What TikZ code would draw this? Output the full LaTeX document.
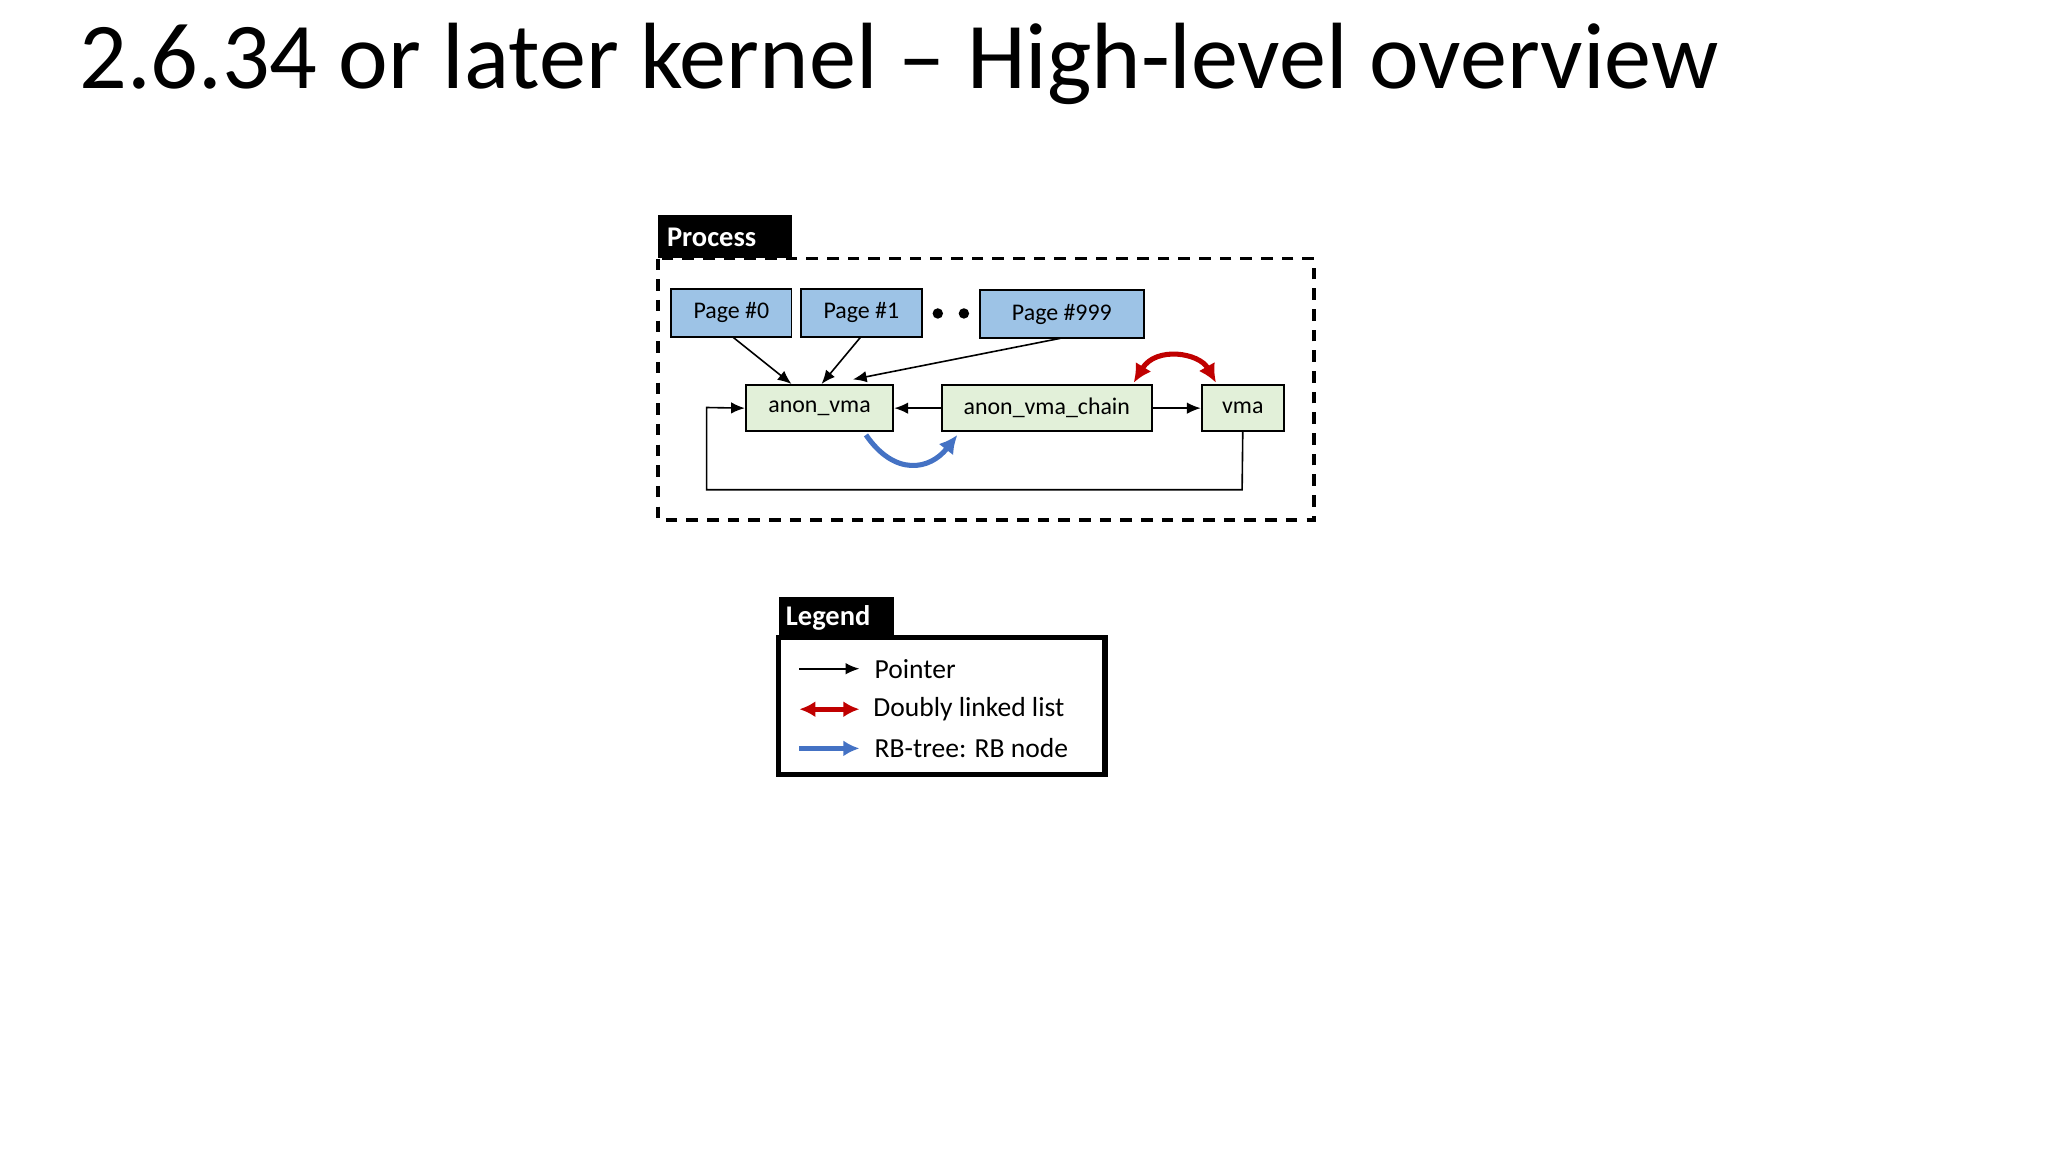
\documentclass[tikz,border=0pt]{standalone}
\usepackage{fontspec}
\setmainfont{Carlito}
\usetikzlibrary{arrows.meta}
\definecolor{pblue}{HTML}{9DC3E6}
\definecolor{pgreen}{HTML}{E2F0D9}
\definecolor{dred}{HTML}{C00000}
\definecolor{rbblue}{HTML}{4472C4}
\tikzset{
 pagebox/.style={draw,fill=pblue,minimum height=37*0.01cm,inner sep=0pt,font=\fontsize{5.2}{6}\selectfont},
 structbox/.style={draw,fill=pgreen,minimum height=35*0.01cm,inner sep=0pt,font=\fontsize{5.2}{6}\selectfont},
 ptr/.style={-{Latex[length=3pt,width=2.5pt]},line width=0.35pt},
 tag/.style={fill=black,text=white,font=\bfseries\fontsize{6.2}{7}\selectfont,inner sep=0pt,anchor=south west},
}
\begin{document}
\begin{tikzpicture}[x=0.01cm,y=-0.01cm]
\useasboundingbox (0,0) rectangle (1568,882);
\node[anchor=base west,inner sep=0pt,font=\fontsize{20.5}{24}\selectfont] (title) at (60,68) {2.6.34 or later kernel – High-level overview};
% process
\draw[dashed,line width=0.8pt,dash pattern=on 2.5pt off 2pt] (504,198) rectangle (1006,398);
\node[tag,minimum width=103*0.01cm,minimum height=33*0.01cm] (proc) at (503,198) {};
\node[font=\bfseries\fontsize{6.2}{7}\selectfont,text=white,anchor=west,inner sep=0pt] (proct) at (510,182) {Process};
\node[pagebox,minimum width=92*0.01cm] (p0) at (560,239.5) {Page \#0};
\node[pagebox,minimum width=93*0.01cm] (p1) at (659.5,239.5) {Page \#1};
\node[pagebox,minimum width=126*0.01cm] (p999) at (813,240.5) {Page \#999};
\fill (718,240) circle (4) (738,240) circle (4);
\node[structbox,minimum width=113*0.01cm] (av) at (627.5,312.5) {anon\_vma};
\node[structbox,minimum width=161*0.01cm] (avc) at (801.5,312.5) {anon\_vma\_chain};
\node[structbox,minimum width=63*0.01cm] (vma) at (951.5,312.5) {vma};
\draw[ptr] (561,258) -- (606,294);
\draw[ptr] (659,258) -- (629,294);
\draw[ptr] (812,259) -- (653,290.5);
\draw[ptr] (avc.west) -- (av.east);
\draw[ptr] (avc.east) -- (vma.west);
\draw[ptr] (vma.south) -- (951,375) -- (541,375) -- (541,312) -- (av.west);
\draw[{Latex[length=4pt,width=4pt]}-{Latex[length=4pt,width=4pt]},dred,line width=1.1pt] (868,293) .. controls (885,265) and (918,270) .. (931,293);
\draw[-{Latex[length=4pt,width=4pt]},rbblue,line width=1.1pt] (663,333) .. controls (685,365) and (712,360) .. (733,333);
% legend
\draw[line width=1.1pt] (596,488) rectangle (846,593);
\node[tag,minimum width=88*0.01cm,minimum height=30*0.01cm] (leg) at (596,488) {};
\node[font=\bfseries\fontsize{6.2}{7}\selectfont,text=white,anchor=west,inner sep=0pt] (legt) at (601,473) {Legend};
\coordinate (a1) at (612,512); \coordinate (b1) at (658,512);
\coordinate (a2) at (612,543); \coordinate (b2) at (658,543);
\coordinate (a3) at (612,573); \coordinate (b3) at (658,573);
\draw[ptr] (a1) -- (b1);
\draw[{Latex[length=3.5pt,width=3.5pt]}-{Latex[length=3.5pt,width=3.5pt]},dred,line width=1.1pt] (a2) -- (b2);
\draw[-{Latex[length=3.5pt,width=3.5pt]},rbblue,line width=1.1pt] (a3) -- (b3);
\tikzset{lt/.style={anchor=west,inner sep=0pt,font=\fontsize{6}{7}\selectfont}}
\node[lt] (l1) at (669,512) {Pointer};
\node[lt] (l2) at (668,543) {Doubly linked list};
\node[lt] (l3) at (669,573) {RB-tree: RB node};
\end{tikzpicture}
\end{document}
